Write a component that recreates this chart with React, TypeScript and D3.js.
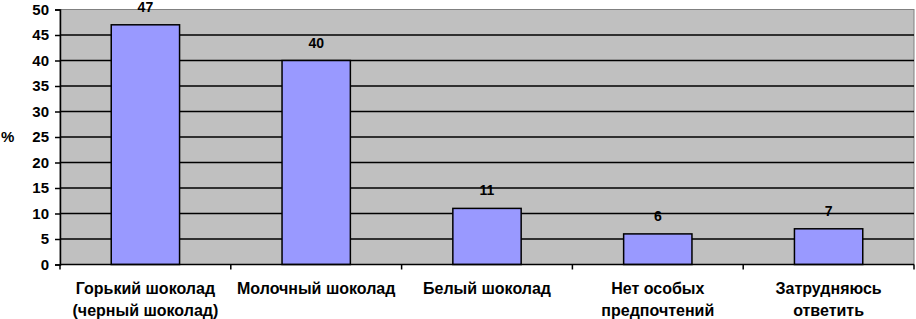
import * as d3 from "d3";
import { useEffect, useRef } from "react";

const categories = [
  ["Горький шоколад", "(черный шоколад)"],
  ["Молочный шоколад"],
  ["Белый шоколад"],
  ["Нет особых", "предпочтений"],
  ["Затрудняюсь", "ответить"],
];
const values = [47, 40, 11, 6, 7];
const yTicks = [0, 5, 10, 15, 20, 25, 30, 35, 40, 45, 50];

const W = 916;
const H = 319;

const App = () => {
  const ref = useRef<SVGSVGElement>(null);

  useEffect(() => {
    const margin = { top: 9.5, right: 2, bottom: 54.5, left: 60 };
    const width = W - margin.left - margin.right;
    const height = H - margin.top - margin.bottom;
    const font = "'Liberation Sans', Arial, sans-serif";

    const root = d3.select(ref.current);
    root.selectAll("*").remove();
    const svg = root.append("g").attr("transform", `translate(${margin.left},${margin.top})`);

    const ids = categories.map((_, i) => String(i));
    const x = d3.scaleBand().domain(ids).range([0, width]).paddingInner(0.6).paddingOuter(0.3);
    const xb = d3.scaleBand().domain(ids).range([0, width]);
    const y = d3.scaleLinear().domain([0, 50]).range([height, 0]);

    // plot background
    svg.append("rect")
      .attr("width", width).attr("height", height)
      .attr("fill", "#c0c0c0").attr("stroke", "#808080").attr("stroke-width", 1);

    // gridlines
    svg.append("g")
      .selectAll("line")
      .data(yTicks.filter((t) => t > 0 && t < 50))
      .join("line")
      .attr("x1", 0).attr("x2", width)
      .attr("y1", (d) => y(d)).attr("y2", (d) => y(d))
      .attr("stroke", "#000").attr("stroke-width", 1.5);

    // bars
    svg.append("g")
      .selectAll("rect")
      .data(values)
      .join("rect")
      .attr("x", (_, i) => x(String(i))!)
      .attr("y", (d) => y(d))
      .attr("width", x.bandwidth())
      .attr("height", (d) => height - y(d))
      .attr("fill", "#9999ff")
      .attr("stroke", "#000").attr("stroke-width", 1.5);

    // value labels
    svg.append("g")
      .selectAll("text")
      .data(values)
      .join("text")
      .attr("x", (_, i) => x(String(i))! + x.bandwidth() / 2)
      .attr("y", (d) => y(d) - 13)
      .attr("text-anchor", "middle")
      .attr("font-family", font).attr("font-weight", "bold").attr("font-size", 14)
      .text((d) => d);

    // y axis
    const yAxis = svg.append("g")
      .call(d3.axisLeft(y).tickValues(yTicks).tickSize(5).tickPadding(6));
    yAxis.select(".domain").attr("stroke", "#000").attr("stroke-width", 1.5);
    yAxis.selectAll(".tick line").attr("stroke-width", 1.5);
    yAxis.selectAll("text")
      .attr("font-family", font).attr("font-weight", "bold").attr("font-size", 15).attr("fill", "#000");

    // x axis
    const xg = svg.append("g").attr("transform", `translate(0,${height})`);
    xg.append("line").attr("x1", 0).attr("x2", width).attr("stroke", "#000").attr("stroke-width", 1.5);
    xg.selectAll(".xt")
      .data(d3.range(categories.length + 1))
      .join("line")
      .attr("class", "xt")
      .attr("x1", (i) => (i < categories.length ? xb(String(i))! : width))
      .attr("x2", (i) => (i < categories.length ? xb(String(i))! : width))
      .attr("y1", 0).attr("y2", 5)
      .attr("stroke", "#000").attr("stroke-width", 1.5);

    xg.selectAll(".xl")
      .data(categories)
      .join("text")
      .attr("class", "xl")
      .attr("x", (_, i) => xb(String(i))! + xb.bandwidth() / 2)
      .attr("y", 29.5)
      .attr("text-anchor", "middle")
      .attr("font-family", font).attr("font-weight", "bold").attr("font-size", 16)
      .selectAll("tspan")
      .data((d) => d)
      .join("tspan")
      .attr("x", function () {
        return (this as any).parentNode.getAttribute("x");
      })
      .attr("dy", (_, j) => (j === 0 ? 0 : 21.5))
      .text((d) => d);

    // y axis title
    root.append("text")
      .attr("x", 1).attr("y", 142)
      .attr("font-family", font).attr("font-weight", "bold").attr("font-size", 15)
      .text("%");
  }, []);

  return <svg ref={ref} width={W} height={H} style={{ position: "absolute", left: 0, top: 0 }} />;
};

export default App;
